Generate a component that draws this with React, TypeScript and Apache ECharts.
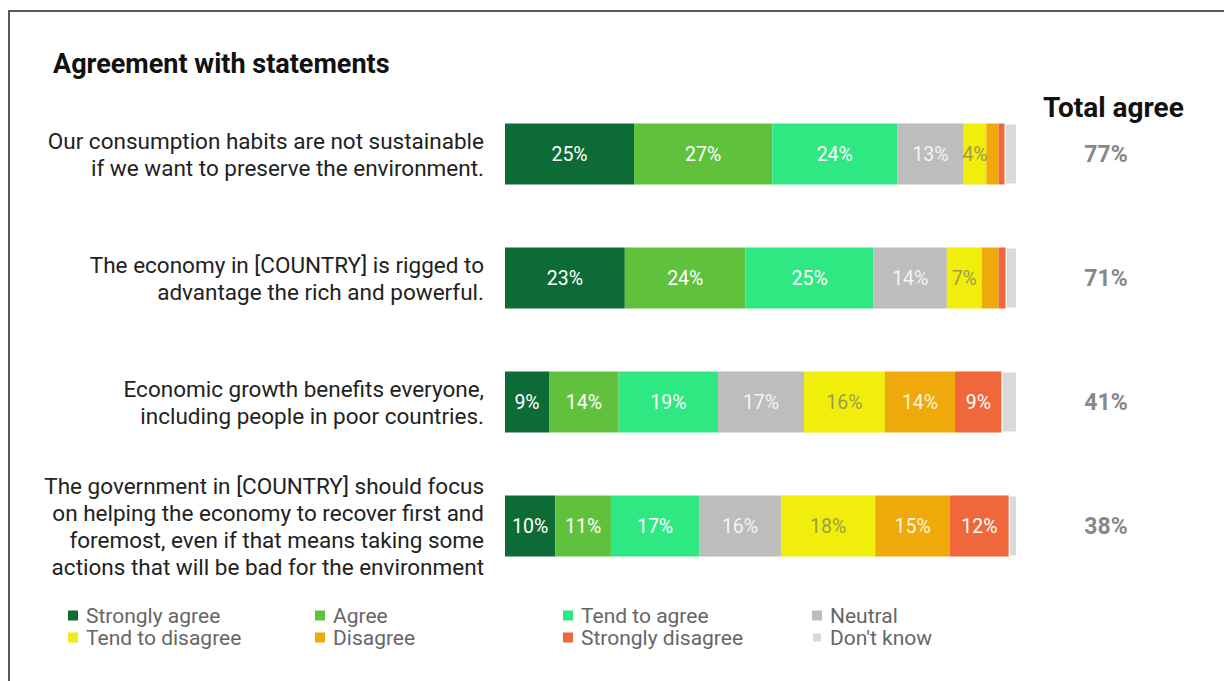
import React, { useEffect, useRef } from "react";
import * as echarts from "echarts";

const categories = [
  "Our consumption habits are not sustainable\nif we want to preserve the environment.",
  "The economy in [COUNTRY] is rigged to\nadvantage the rich and powerful.",
  "Economic growth benefits everyone,\nincluding people in poor countries.",
  "The government in [COUNTRY] should focus\non helping the economy to recover first and\nforemost, even if that means taking some\nactions that will be bad for the environment",
];

const seriesNames = [
  "Strongly agree",
  "Agree",
  "Tend to agree",
  "Neutral",
  "Tend to disagree",
  "Disagree",
  "Strongly disagree",
  "Don't know",
];

const stronglyAgree = [25.2, 23.4, 8.6, 9.8];
const agree = [27.0, 23.6, 13.6, 10.9];
const tendToAgree = [24.4, 25.0, 19.4, 17.2];
const neutral = [13.0, 14.3, 16.8, 16.0];
const tendToDisagree = [4.4, 6.8, 15.8, 18.4];
const disagree = [2.4, 3.3, 13.7, 14.6];
const stronglyDisagree = [1.2, 1.4, 9.1, 11.5];
const dontKnow = [2.4, 2.2, 3.0, 1.6];

const totalAgree = [77, 71, 41, 38];

const colors = [
  "#0d6b35",
  "#60c23c",
  "#2ee882",
  "#bdbdbd",
  "#f0ee0a",
  "#efa90a",
  "#ef673a",
  "#d9d9d9",
];

const labelColors = [
  "#ffffff",
  "#ffffff",
  "#ffffff",
  "#f4f4f4",
  "#9c9c4a",
  "#fff6dc",
  "#ffffff",
  "#ffffff",
];

const FONT = "Roboto, 'Noto Sans', sans-serif";

export default function App() {
  const ref = useRef<HTMLDivElement>(null);

  useEffect(() => {
    if (!ref.current) return;
    const chart = echarts.init(ref.current, null, { renderer: "svg" });
    const dataSets = [
      stronglyAgree,
      agree,
      tendToAgree,
      neutral,
      tendToDisagree,
      disagree,
      stronglyDisagree,
      dontKnow,
    ];
    const series = seriesNames.map((name, i) => ({
      name,
      type: "bar",
      stack: "total",
      barWidth: 61,
      data: dataSets[i],
      itemStyle:
        i === 7
          ? { color: colors[i], borderColor: "#ffffff", borderWidth: 1 }
          : { color: colors[i] },
      label: {
        show: i !== 7,
        color: labelColors[i],
        fontFamily: FONT,
        fontSize: 19.5,
        formatter: (p: any) => (p.value >= 4 ? Math.round(p.value) + "%" : ""),
      },
      emphasis: { disabled: true },
    }));

    const legendCols = [
      [0, 4],
      [1, 5],
      [2, 6],
      [3, 7],
    ];
    const legendLefts = [63, 310, 558, 806];
    const legends = legendCols.map((col, k) => ({
      orient: "vertical",
      left: legendLefts[k],
      top: 600,
      itemWidth: 10,
      itemHeight: 10,
      itemGap: 1,
      icon: "rect",
      selectedMode: false,
      data: col.map((i) => seriesNames[i]),
      textStyle: {
        color: "#666666",
        fontFamily: FONT,
        fontSize: 21,
        lineHeight: 21,
        padding: [0, 0, 0, 3],
      },
    }));

    chart.setOption({
      animation: false,
      title: [
        {
          text: "Agreement with statements",
          left: 48,
          top: 45,
          textStyle: { color: "#111111", fontFamily: FONT, fontSize: 27, fontWeight: "bold" },
        },
        {
          text: "Total agree",
          left: 1038,
          top: 88,
          textStyle: { color: "#111111", fontFamily: FONT, fontSize: 28, fontWeight: "bold" },
        },
      ],
      legend: legends,
      grid: { left: 505, width: 512, top: 92, height: 496 },
      xAxis: { type: "value", min: 0, max: 100, show: false },
      yAxis: [
        {
          type: "category",
          inverse: true,
          data: categories,
          axisLine: { show: false },
          axisTick: { show: false },
          axisLabel: {
            margin: 21,
            align: "right",
            color: "#222222",
            fontFamily: FONT,
            fontSize: 22.5,
            lineHeight: 27,
          },
        },
        {
          type: "category",
          inverse: true,
          position: "right",
          data: totalAgree.map((t) => t + "%"),
          axisLine: { show: false },
          axisTick: { show: false },
          axisLabel: {
            margin: 89,
            align: "center",
            color: "#888888",
            fontFamily: FONT,
            fontSize: 23,
            fontWeight: "bold",
          },
        },
      ],
      graphic: [
        {
          type: "polyline",
          shape: { points: [[9, 681], [9, 11], [1224, 11]] },
          style: { stroke: "#5a5a5a", lineWidth: 2, fill: "none" },
          silent: true,
        },
      ],
      series,
    });
    return () => chart.dispose();
  }, []);

  return (
    <div
      ref={ref}
      style={{ position: "fixed", left: 0, top: 0, width: 1224, height: 681, background: "#ffffff" }}
    />
  );
}
